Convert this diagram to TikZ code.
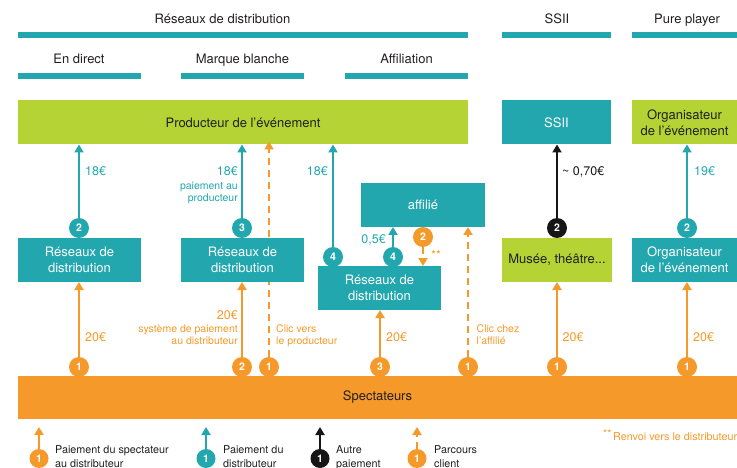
\documentclass[tikz,border=0pt]{standalone}
\usepackage{fontspec}
\setmainfont{TeX Gyre Heros}
\usetikzlibrary{arrows.meta}
\definecolor{cteal}{RGB}{34,167,175}
\definecolor{cgreen}{RGB}{181,211,52}
\definecolor{corange}{RGB}{245,154,42}
\definecolor{cblack}{RGB}{22,22,22}
\definecolor{ctext}{RGB}{35,31,32}

\begin{document}
\begin{tikzpicture}[x=1pt,y=-1pt,
  box/.style={minimum height=44pt,inner sep=0pt,outer sep=0pt,align=center,font=\fontsize{13}{15.7}\selectfont},
  tbox/.style={box,fill=cteal,text=white},
  gbox/.style={box,fill=cgreen,text=ctext},
  hd/.style={inner sep=0pt,text=ctext,font=\fontsize{13}{15}\selectfont},
  num/.style={circle,minimum size=20pt,inner sep=0pt,outer sep=0pt,text=white,font=\fontsize{10.5}{10}\selectfont\bfseries},
  pay/.style={line width=2.4pt,-{Triangle[width=9pt,length=8pt]}},
  walk/.style={pay,dash pattern=on 7pt off 5pt},
  lab/.style={inner sep=0pt,font=\fontsize{12.5}{14}\selectfont},
  sm/.style={inner sep=0pt,font=\fontsize{10.5}{12.5}\selectfont},
  leg/.style={inner sep=0pt,text=ctext,font=\fontsize{10.8}{13}\selectfont}]
  \useasboundingbox (0,0) rectangle (737,468);
  \foreach \a/\b/\y in {18/468/32,502/611/32,632/737/32,18/141/73,181/304/73,345/468/73}
    \fill[cteal] (\a,\y) rectangle (\b,\y+6);
  \foreach \nm/\x/\y/\tx in {hres/222.5/23.3/R\'eseaux de distribution,hssii/557/23.3/SSII,hpure/687/23.3/Pure player,
    hdir/79/64/En direct,hmar/242.5/64/Marque blanche,haff/406.5/64/Affiliation}
    \node[hd,anchor=base] (\nm) at (\x,\y) {\tx};

  \node[gbox,minimum width=450pt] (prod) at (243,122.5) {Producteur de l’événement};
  \node[tbox,minimum width=109pt] (ssii) at (556.5,122.5) {SSII};
  \node[gbox,minimum width=105pt] (orgtop) at (684.5,122.5) {Organisateur\\de l’événement};
  \node[tbox,minimum width=123pt] (res1) at (79.5,260) {Réseaux de\\distribution};
  \node[tbox,minimum width=124pt] (aff) at (423,205) {affilié};
  \node[tbox,minimum width=123pt] (res3) at (379.5,288) {Réseaux de\\distribution};
  \node[gbox,minimum width=110pt] (musee) at (557,260) {Musée, théâtre...};
  \node[tbox,minimum width=105pt] (orgbot) at (684.5,260) {Organisateur\\de l’événement};
  \node[box,fill=corange,text=ctext,minimum width=719pt,minimum height=43pt] (spect) at (377.5,397.5) {Spectateurs};

  \foreach \nm/\x/\y/\c/\t in {tA/79/228/cteal/2,tB/242/228/cteal/3,tC/333/257/cteal/4,tD/393/257/cteal/4,
    tE/687/228/cteal/2,kA/557/228/cblack/2,oS/423/237/corange/2,
    oA/79/367/corange/1,oB/242/367/corange/2,oC/269/367/corange/1,oD/380/367/corange/3,
    oE/468/367/corange/1,oF/557/367/corange/1,oG/687/367/corange/1}
    \node[num,fill=\c] (\nm) at (\x,\y) {\t};

  \draw[walk,corange] (oC) -- ([yshift=3pt]prod.south -| oC);
  \node[tbox,minimum width=123pt] (res2) at (242.5,260) {Réseaux de\\distribution};

  \draw[pay,cteal] (tA) -- (prod.south -| tA);
  \draw[pay,cteal] (tB) -- (prod.south -| tB);
  \draw[pay,cteal] (tC) -- (prod.south -| tC);
  \draw[pay,cteal] (tD) -- (aff.south -| tD);
  \draw[pay,cteal] (tE) -- (orgtop.south -| tE);
  \draw[pay,cblack] (kA) -- (ssii.south -| kA);
  \draw[walk,corange] (oS) -- (res3.north -| oS);
  \draw[walk,corange] (oE) -- (aff.south -| oE);
  \foreach \s/\t in {oA/res1,oB/res2,oD/res3,oF/musee,oG/orgbot}
    \draw[pay,corange] (\s) -- (\t.south -| \s);

  \foreach \nm/\x/\y/\an/\tx in {l1/85/176/west/18€,l2/238/176/east/18€,l5/328/176/east/18€,
    l6/386/243.5/east/{0,5€},l9/694/176/west/19€}
    \node[lab,cteal,anchor=base \an] (\nm) at (\x,\y) {\tx};
  \foreach \nm/\y/\tx in {l3/189.5/paiement au,l4/202/producteur}
    \node[sm,cteal,anchor=base east] (\nm) at (238,\y) {\tx};
  \node[lab,cblack,anchor=base west] (l8) at (562,176) {\textasciitilde{} 0,70€};
  \node[lab,corange,anchor=base west] (l7) at (431,259) {**};
  \foreach \nm/\x/\y/\an/\tx in {o1/85/341.5/west/20€,o2/238/319/east/20€,o7/386/341.5/west/20€,
    o10/562.5/341.5/west/20€,o11/693/341.5/west/20€}
    \node[lab,corange,anchor=base \an] (\nm) at (\x,\y) {\tx};
  \foreach \nm/\x/\y/\an/\tx in {o3/238/332.3/east/système de paiement,o4/238/344.7/east/au distributeur,
    o5/276/332.3/west/Clic vers,o6/276/344.7/west/le producteur,
    o8/476.5/332.3/west/Clic chez,o9/476.5/344.7/west/l’affilié}
    \node[sm,corange,anchor=base \an] (\nm) at (\x,\y) {\tx};

  \foreach \nm/\x/\c/\t in {gA/39/corange/pay,gB/206/cteal/pay,gC/320/cblack/pay,gD/417/corange/walk}{
    \node[num,fill=\c,minimum size=19pt] (\nm) at (\x,458.5) {1};
    \coordinate (\nm top) at (\x,427);
    \draw[\t,\c,line width=2pt] (\nm) -- (\nm top);}
  \foreach \nm/\x/\y/\tx in {sA/55/453.3/Paiement du spectateur,sB/55/467.7/au distributeur,
    sC/223/453.3/Paiement du,sD/223/467.7/distributeur,sE/336/453.3/Autre,sF/336/467.7/paiement,
    sG/434/453.3/Parcours,sH/434/467.7/client}
    \node[leg,anchor=base west] (\nm) at (\x,\y) {\tx};
  \node[leg,corange,anchor=base west] (renvoi) at (603,440) {\raisebox{2.5pt}{**}\kern1.5pt Renvoi vers le distributeur};
\end{tikzpicture}
\end{document}
